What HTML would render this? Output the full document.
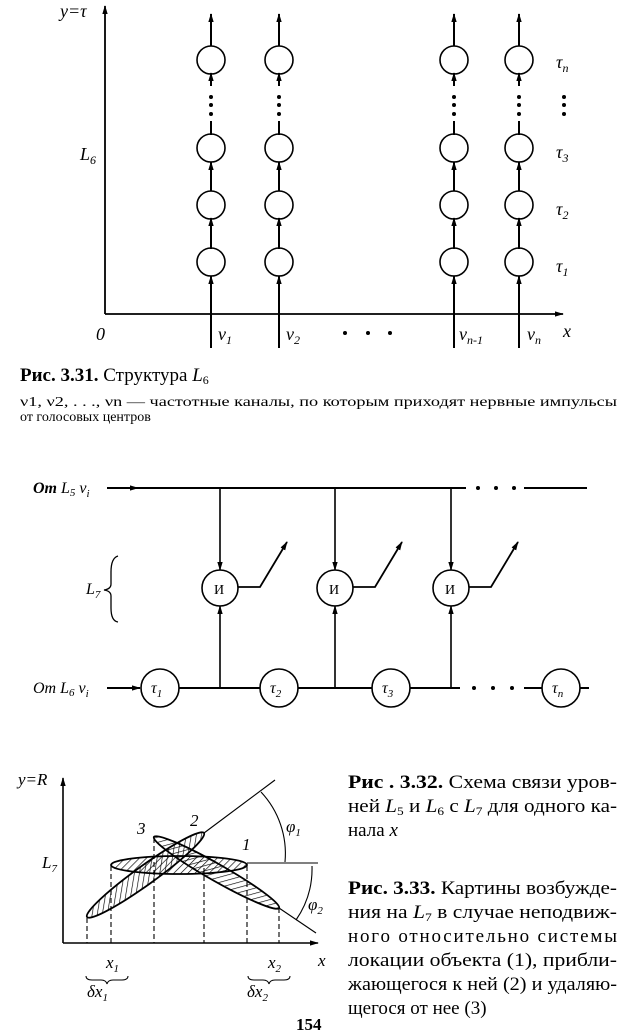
<!DOCTYPE html>
<html><head><meta charset="utf-8"><style>
html,body{margin:0;padding:0;background:#fff}
svg{display:block}
.it{font-family:"Liberation Serif",serif;font-style:italic}
.rm{font-family:"Liberation Serif",serif}
</style></head><body>
<svg width="620" height="1035" viewBox="0 0 620 1035" xmlns="http://www.w3.org/2000/svg">
<defs>
<marker id="ar" viewBox="0 0 10 10" refX="9" refY="5" markerWidth="9" markerHeight="9" orient="auto-start-reverse" markerUnits="userSpaceOnUse"><path d="M0,2 L10,5 L0,8 Z" fill="#000"/></marker>
<pattern id="h" width="5" height="5" patternUnits="userSpaceOnUse" patternTransform="rotate(45)"><line x1="0" y1="0" x2="0" y2="5" stroke="#000" stroke-width="1.3"/></pattern>
</defs>
<g stroke="#000" fill="none">
<line x1="105" y1="314" x2="105" y2="6" stroke-width="1.8" marker-end="url(#ar)"/>
<line x1="105" y1="314" x2="563" y2="314" stroke-width="1.8" marker-end="url(#ar)"/>
<g stroke-width="2">
<g id="col">
<line x1="211" y1="348" x2="211" y2="276" marker-end="url(#ar)"/>
<line x1="211" y1="249" x2="211" y2="218" marker-end="url(#ar)"/>
<line x1="211" y1="191" x2="211" y2="162" marker-end="url(#ar)"/>
<line x1="211" y1="135" x2="211" y2="121"/>
<line x1="211" y1="86" x2="211" y2="73" marker-end="url(#ar)"/>
<line x1="211" y1="46" x2="211" y2="14" marker-end="url(#ar)"/>
<ellipse cx="211" cy="262" rx="14" ry="14" stroke-width="1.6"/>
<ellipse cx="211" cy="205" rx="14" ry="14" stroke-width="1.6"/>
<ellipse cx="211" cy="148" rx="14" ry="14" stroke-width="1.6"/>
<ellipse cx="211" cy="60" rx="14" ry="14" stroke-width="1.6"/>
</g>
<use href="#col" x="68"/>
<use href="#col" x="243"/>
<use href="#col" x="308"/>
</g>
</g>
<g fill="#000">
<circle cx="211" cy="97" r="2"/><circle cx="211" cy="105" r="2"/><circle cx="211" cy="114" r="2"/>
<circle cx="279" cy="97" r="2"/><circle cx="279" cy="105" r="2"/><circle cx="279" cy="114" r="2"/>
<circle cx="454" cy="97" r="2"/><circle cx="454" cy="105" r="2"/><circle cx="454" cy="114" r="2"/>
<circle cx="519" cy="97" r="2"/><circle cx="519" cy="105" r="2"/><circle cx="519" cy="114" r="2"/>
<circle cx="564" cy="97" r="2"/><circle cx="564" cy="105" r="2"/><circle cx="564" cy="114" r="2"/>
<circle cx="345" cy="333" r="2"/><circle cx="368" cy="333" r="2"/><circle cx="390" cy="333" r="2"/>
</g>
<g class="it" font-size="18" fill="#000">
<text x="60" y="17">y=τ</text>
<text x="80" y="160">L<tspan font-size="12" dy="4">6</tspan></text>
<text x="96" y="340">0</text>
<text x="218" y="340">ν<tspan font-size="12" dy="4">1</tspan></text>
<text x="286" y="340">ν<tspan font-size="12" dy="4">2</tspan></text>
<text x="459" y="340">ν<tspan font-size="12" dy="4">n-1</tspan></text>
<text x="527" y="340">ν<tspan font-size="12" dy="4">n</tspan></text>
<text x="563" y="337">x</text>
<text x="556" y="68">τ<tspan font-size="12" dy="4">n</tspan></text>
<text x="556" y="158">τ<tspan font-size="12" dy="4">3</tspan></text>
<text x="556" y="215">τ<tspan font-size="12" dy="4">2</tspan></text>
<text x="556" y="272">τ<tspan font-size="12" dy="4">1</tspan></text>
</g>
<text class="rm" x="20" y="381" font-size="19"><tspan font-weight="bold">Рис. 3.31.</tspan> Структура <tspan font-style="italic">L</tspan><tspan font-size="12" dy="3">6</tspan></text>
<text class="rm" x="20" y="406" style="font-size:14px" textLength="597" lengthAdjust="spacingAndGlyphs">ν1, ν2, . . ., νn — частотные каналы, по которым приходят нервные импульсы</text>
<text class="rm" x="20" y="421" style="font-size:14px">от голосовых центров</text>

<g stroke="#000" fill="none" stroke-width="2">
<line x1="107" y1="488" x2="466" y2="488"/>
<line x1="107" y1="488" x2="138" y2="488" marker-end="url(#ar)"/>
<line x1="524" y1="488" x2="587" y2="488"/>
<line x1="107" y1="688" x2="140" y2="688" marker-end="url(#ar)"/>
<line x1="179" y1="688" x2="260" y2="688"/>
<line x1="298" y1="688" x2="372" y2="688"/>
<line x1="410" y1="688" x2="460" y2="688"/>
<line x1="524" y1="688" x2="542" y2="688"/>
<line x1="580" y1="688" x2="589" y2="688"/>
<g stroke-width="1.6">
<circle cx="160" cy="688" r="19"/><circle cx="279" cy="688" r="19"/><circle cx="391" cy="688" r="19"/><circle cx="561" cy="688" r="19"/>
</g>
<g id="and">
<line x1="220" y1="488" x2="220" y2="570" stroke-width="1.6" marker-end="url(#ar)"/>
<line x1="220" y1="688" x2="220" y2="606" stroke-width="1.6" marker-end="url(#ar)"/>
<circle cx="220" cy="588" r="18" stroke-width="1.6"/>
<polyline points="238,587 260,587 287,542" stroke-width="1.8" marker-end="url(#ar)"/>
</g>
<use href="#and" x="115"/>
<use href="#and" x="231"/>
<path d="M118,556 Q111,558 111,572 L111,584 Q111,589 104,590 Q111,591 111,596 L111,608 Q111,621 118,622" stroke-width="1.3"/>
</g>
<g fill="#000">
<circle cx="478" cy="488" r="2"/><circle cx="496" cy="488" r="2"/><circle cx="514" cy="488" r="2"/>
<circle cx="474" cy="688" r="2"/><circle cx="493" cy="688" r="2"/><circle cx="512" cy="688" r="2"/>
</g>
<g class="it" font-size="16" fill="#000">
<text x="33" y="493"><tspan font-weight="bold">От</tspan> L<tspan font-size="11" dy="3">5</tspan><tspan dy="-3"> ν</tspan><tspan font-size="11" dy="4">i</tspan></text>
<text x="33" y="693">От L<tspan font-size="11" dy="3">6</tspan><tspan dy="-3"> ν</tspan><tspan font-size="11" dy="4">i</tspan></text>
<text x="86" y="594">L<tspan font-size="11" dy="4">7</tspan></text>
<text x="214" y="594" font-style="normal" font-size="14">И</text>
<text x="329" y="594" font-style="normal" font-size="14">И</text>
<text x="445" y="594" font-style="normal" font-size="14">И</text>
<text x="151" y="693">τ<tspan font-size="11" dy="4">1</tspan></text>
<text x="270" y="693">τ<tspan font-size="11" dy="4">2</tspan></text>
<text x="382" y="693">τ<tspan font-size="11" dy="4">3</tspan></text>
<text x="552" y="693">τ<tspan font-size="11" dy="4">n</tspan></text>
</g>

<g stroke="#000" fill="none">
<line x1="63" y1="943" x2="63" y2="778" stroke-width="1.6" marker-end="url(#ar)"/>
<line x1="63" y1="943" x2="318" y2="943" stroke-width="1.6" marker-end="url(#ar)"/>
<g stroke-width="1.1" stroke-dasharray="5,3">
<line x1="87" y1="918" x2="87" y2="943"/><line x1="111" y1="866" x2="111" y2="943"/>
<line x1="154" y1="838" x2="154" y2="943"/><line x1="204" y1="868" x2="204" y2="943"/>
<line x1="247" y1="866" x2="247" y2="943"/><line x1="279" y1="908" x2="279" y2="943"/>
</g>
<line x1="204" y1="833" x2="275" y2="780" stroke-width="1.1"/>
<line x1="279" y1="908" x2="316" y2="933" stroke-width="1.1"/>
<line x1="247" y1="863" x2="318" y2="863" stroke-width="1.1"/>
<path d="M261,792 A90,90 0 0 1 285,862" stroke-width="1.1"/>
<path d="M312,866 A90,90 0 0 1 296,920" stroke-width="1.1"/>
<g stroke-width="1.8" fill="url(#h)">
<ellipse cx="179" cy="865" rx="68" ry="9"/>
<ellipse cx="145.5" cy="875" rx="72" ry="9.5" transform="rotate(-35.7 145.5 875)"/>
<ellipse cx="216.5" cy="872.5" rx="72" ry="8.5" transform="rotate(29.6 216.5 872.5)"/>
</g>
<path d="M86,976 q0,4 6,4 h9 q5,0 6,4 q1,-4 6,-4 h9 q6,0 6,-4" stroke-width="1"/>
<path d="M248,976 q0,4 6,4 h9 q5,0 6,4 q1,-4 6,-4 h9 q6,0 6,-4" stroke-width="1"/>
</g>
<g class="it" font-size="17" fill="#000">
<text x="18" y="785">y=R</text>
<text x="42" y="868">L<tspan font-size="11" dy="4">7</tspan></text>
<text x="318" y="966">x</text>
<text x="106" y="968">x<tspan font-size="11" dy="4">1</tspan></text>
<text x="87" y="997">δx<tspan font-size="11" dy="4">1</tspan></text>
<text x="268" y="968">x<tspan font-size="11" dy="4">2</tspan></text>
<text x="247" y="997">δx<tspan font-size="11" dy="4">2</tspan></text>
<text x="137" y="834">3</text>
<text x="190" y="826">2</text>
<text x="242" y="850">1</text>
<text x="286" y="832">φ<tspan font-size="11" dy="4">1</tspan></text>
<text x="308" y="910">φ<tspan font-size="11" dy="4">2</tspan></text>
</g>
<g class="rm" font-size="19" fill="#000">
<text x="348" y="788" textLength="269" lengthAdjust="spacingAndGlyphs"><tspan font-weight="bold">Рис . 3.32.</tspan> Схема связи уров-</text>
<text x="348" y="812" textLength="269" lengthAdjust="spacingAndGlyphs">ней <tspan font-style="italic">L</tspan><tspan font-size="12" dy="3">5</tspan><tspan dy="-3"> и </tspan><tspan font-style="italic">L</tspan><tspan font-size="12" dy="3">6</tspan><tspan dy="-3"> с </tspan><tspan font-style="italic">L</tspan><tspan font-size="12" dy="3">7</tspan><tspan dy="-3"> для одного ка-</tspan></text>
<text x="348" y="836">нала <tspan font-style="italic">x</tspan></text>
<text x="348" y="894" textLength="269" lengthAdjust="spacingAndGlyphs"><tspan font-weight="bold">Рис. 3.33.</tspan> Картины возбужде-</text>
<text x="348" y="918" textLength="269" lengthAdjust="spacingAndGlyphs">ния на <tspan font-style="italic">L</tspan><tspan font-size="12" dy="3">7</tspan><tspan dy="-3"> в случае неподвиж-</tspan></text>
<text x="348" y="942" textLength="269" lengthAdjust="spacing">ного относительно системы</text>
<text x="348" y="966" textLength="269" lengthAdjust="spacingAndGlyphs">локации объекта (1), прибли-</text>
<text x="348" y="990" textLength="269" lengthAdjust="spacingAndGlyphs">жающегося к ней (2) и удаляю-</text>
<text x="348" y="1014">щегося от нее (3)</text>
<text x="296" y="1030" font-weight="bold" font-size="17">154</text>
</g>
</svg>
</body></html>
